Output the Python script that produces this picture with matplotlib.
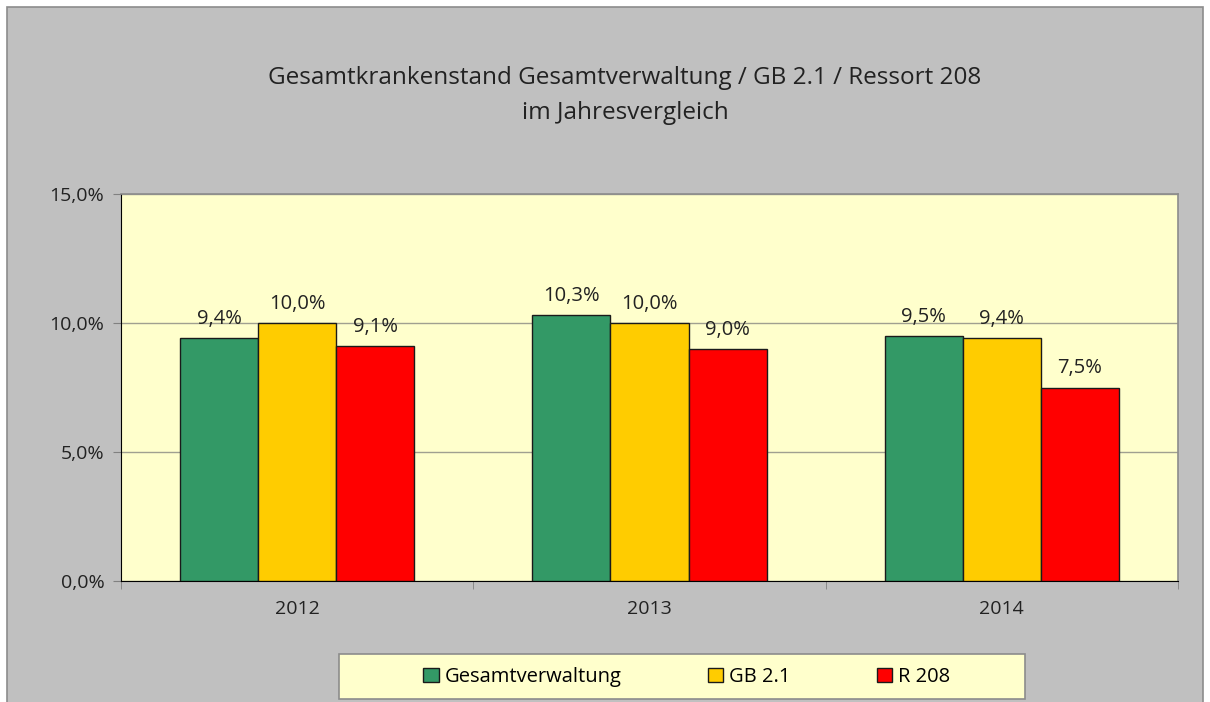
import numpy as np
import matplotlib.pyplot as plt
from matplotlib.patches import Rectangle

plt.rcParams['font.family'] = ['Open Sans', 'DejaVu Sans']

years = ['2012', '2013', '2014']
series = ['Gesamtverwaltung', 'GB 2.1', 'R 208']
gesamt = [9.4, 10.3, 9.5]
gb21 = [10.0, 10.0, 9.4]
r208 = [9.1, 9.0, 7.5]
colors = ['#339966', '#FFCC00', '#FF0000']

W, H = 1210, 702
fig = plt.figure(figsize=(W / 100, H / 100), dpi=100, facecolor='white')

# grey chart area with thin border
fig.patches.append(Rectangle((7 / W, -0.01), 1196 / W, 1.01 - 7 / H, transform=fig.transFigure,
                             facecolor='#C0C0C0', edgecolor='#8C8C8C', lw=1.2, zorder=-5))
# legend box
fig.patches.append(Rectangle((339 / W, 1 - 699 / H), 686 / W, 45 / H, transform=fig.transFigure,
                             facecolor='#FFFFCC', edgecolor='#8C8C8C', lw=1.2, zorder=-4))

ax = fig.add_axes([121 / W, 1 - 581 / H, 1057 / W, 387 / H])
ax.set_facecolor('#FFFFCC')

x = np.arange(len(years))
bw = 0.222
vals = [gesamt, gb21, r208]
for i, (name, v, c) in enumerate(zip(series, vals, colors)):
    pos = x + (i - 1) * bw
    ax.bar(pos, v, bw, color=c, edgecolor='#1a1a1a', lw=1.0, label=name, zorder=3)
    for px, pv in zip(pos, v):
        ax.text(px, pv + 0.35, f'{pv:.1f}%'.replace('.', ','), ha='center', va='bottom',
                fontsize=14.5, color='#222222', zorder=4)

ax.set_xlim(-0.5, 2.5)
ax.set_ylim(0, 15)
ax.set_yticks([0, 5, 10, 15])
ax.set_yticklabels([f'{t:.1f}%'.replace('.', ',') for t in [0, 5, 10, 15]])
ax.yaxis.grid(True, color='#A0A090', lw=1.0, zorder=1)
ax.set_axisbelow(True)

ax.set_xticks(x)
ax.set_xticklabels(years)
ax.set_xticks([-0.5, 0.5, 1.5, 2.5], minor=True)
ax.tick_params(axis='x', which='major', length=0, pad=14, labelsize=14, colors='#222222')
ax.tick_params(axis='x', which='minor', length=6, color='#808080', direction='out')
ax.tick_params(axis='y', length=6, color='#808080', direction='out', pad=6,
               labelsize=14, labelcolor='#222222')

for s in ['top', 'right']:
    ax.spines[s].set_color('#8C8C8C')
    ax.spines[s].set_linewidth(1.2)
ax.spines['left'].set_color('black')
ax.spines['bottom'].set_color('black')

fig.text(625 / W, 1 - 78 / H, 'Gesamtkrankenstand Gesamtverwaltung / GB 2.1 / Ressort 208',
         ha='center', va='center', fontsize=17.5, color='#222222')
fig.text(625 / W, 1 - 113 / H, 'im Jahresvergleich',
         ha='center', va='center', fontsize=17.5, color='#222222')

leg = fig.legend(loc='center', bbox_to_anchor=(687 / W, 1 - 677 / H), ncol=3,
                 frameon=False, fontsize=14.5, handlelength=0.75,
                 handleheight=0.75, handletextpad=0.3, columnspacing=4.3,
                 borderpad=0.0)

fig.savefig('out.png', dpi=100, facecolor=fig.get_facecolor())
